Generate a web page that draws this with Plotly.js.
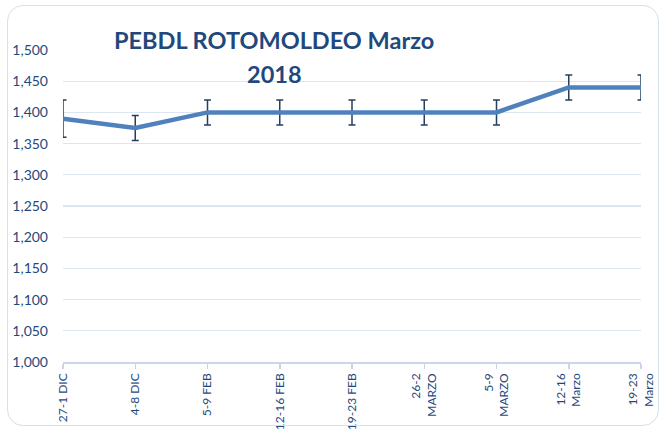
<!DOCTYPE html>
<html>
<head>
<meta charset="utf-8">
<script src="https://cdn.plot.ly/plotly-3.0.1.min.js"></script>
<style>
html,body{margin:0;padding:0;background:#fff;}
#wrap{position:relative;width:662px;height:430px;}
#chart{width:662px;height:430px;}
#frame{position:absolute;left:7px;top:5px;width:652px;height:421px;border:1px solid #d6e0ef;border-radius:16px;pointer-events:none;box-sizing:border-box;}
</style>
</head>
<body>
<div id="wrap"><div id="chart"></div><div id="frame"></div></div>
<script>
const categories = ["27-1 DIC","4-8 DIC","5-9 FEB","12-16 FEB","19-23 FEB","26-2<br>MARZO","5-9<br>MARZO","12-16<br>Marzo","19-23<br>Marzo"];
const prices = [1390, 1375, 1400, 1400, 1400, 1400, 1400, 1440, 1440];
const errors = [30, 20, 20, 20, 20, 20, 20, 20, 20];
const yTicks = [1000,1050,1100,1150,1200,1250,1300,1350,1400,1450,1500];
const yTickText = ["1,000","1,050","1,100","1,150","1,200","1,250","1,300","1,350","1,400","1,450","1,500"];
const titleLines = ["PEBDL ROTOMOLDEO Marzo", "2018"];

const idx = categories.map((c,i)=>i);
const trace = {
  x: idx, y: prices, type: 'scatter', mode: 'lines',
  line: {color: '#4f81bd', width: 4.5},
  error_y: {type: 'data', array: errors, visible: true, color: '#243f60', thickness: 1.5, width: 3.5},
  cliponaxis: true, hoverinfo: 'none'
};
const navy = '#1f497d';
const fam = 'Lato, "Open Sans", sans-serif';
const layout = {
  width: 662, height: 430,
  margin: {l: 63, r: 21, t: 50, b: 68},
  paper_bgcolor: 'rgba(0,0,0,0)', plot_bgcolor: 'rgba(0,0,0,0)',
  showlegend: false,
  font: {family: fam, color: navy},
  annotations: [
    {text: '<b>' + titleLines[0] + '</b>', xref: 'paper', yref: 'paper',
     x: (274-63)/578, y: (362-24)/312, xanchor: 'center', yanchor: 'top', showarrow: false,
     font: {family: fam, size: 23.5, color: navy}},
    {text: '<b>' + titleLines[1] + '</b>', xref: 'paper', yref: 'paper',
     x: (274-63)/578, y: (362-58)/312, xanchor: 'center', yanchor: 'top', showarrow: false,
     font: {family: fam, size: 23.5, color: navy}}
  ],
  xaxis: {
    range: [0, 8], tickmode: 'array', tickvals: idx, ticktext: categories,
    tickangle: -90, tickfont: {size: 12, color: navy},
    showgrid: false, zeroline: false,
    showline: true, linecolor: '#c9d6ea', linewidth: 1.5,
    ticks: 'outside', ticklen: 5, tickcolor: '#c9d6ea', tickwidth: 1.5
  },
  yaxis: {
    range: [1000, 1500], tickmode: 'array', tickvals: yTicks, ticktext: yTickText,
    tickfont: {size: 14, color: navy},
    showgrid: true, gridcolor: '#dce6f2', gridwidth: 1.2,
    zeroline: false, showline: false, ticks: '', ticklabelstandoff: 14
  }
};
Plotly.newPlot('chart', [trace], layout, {staticPlot: true});
</script>
</body>
</html>
